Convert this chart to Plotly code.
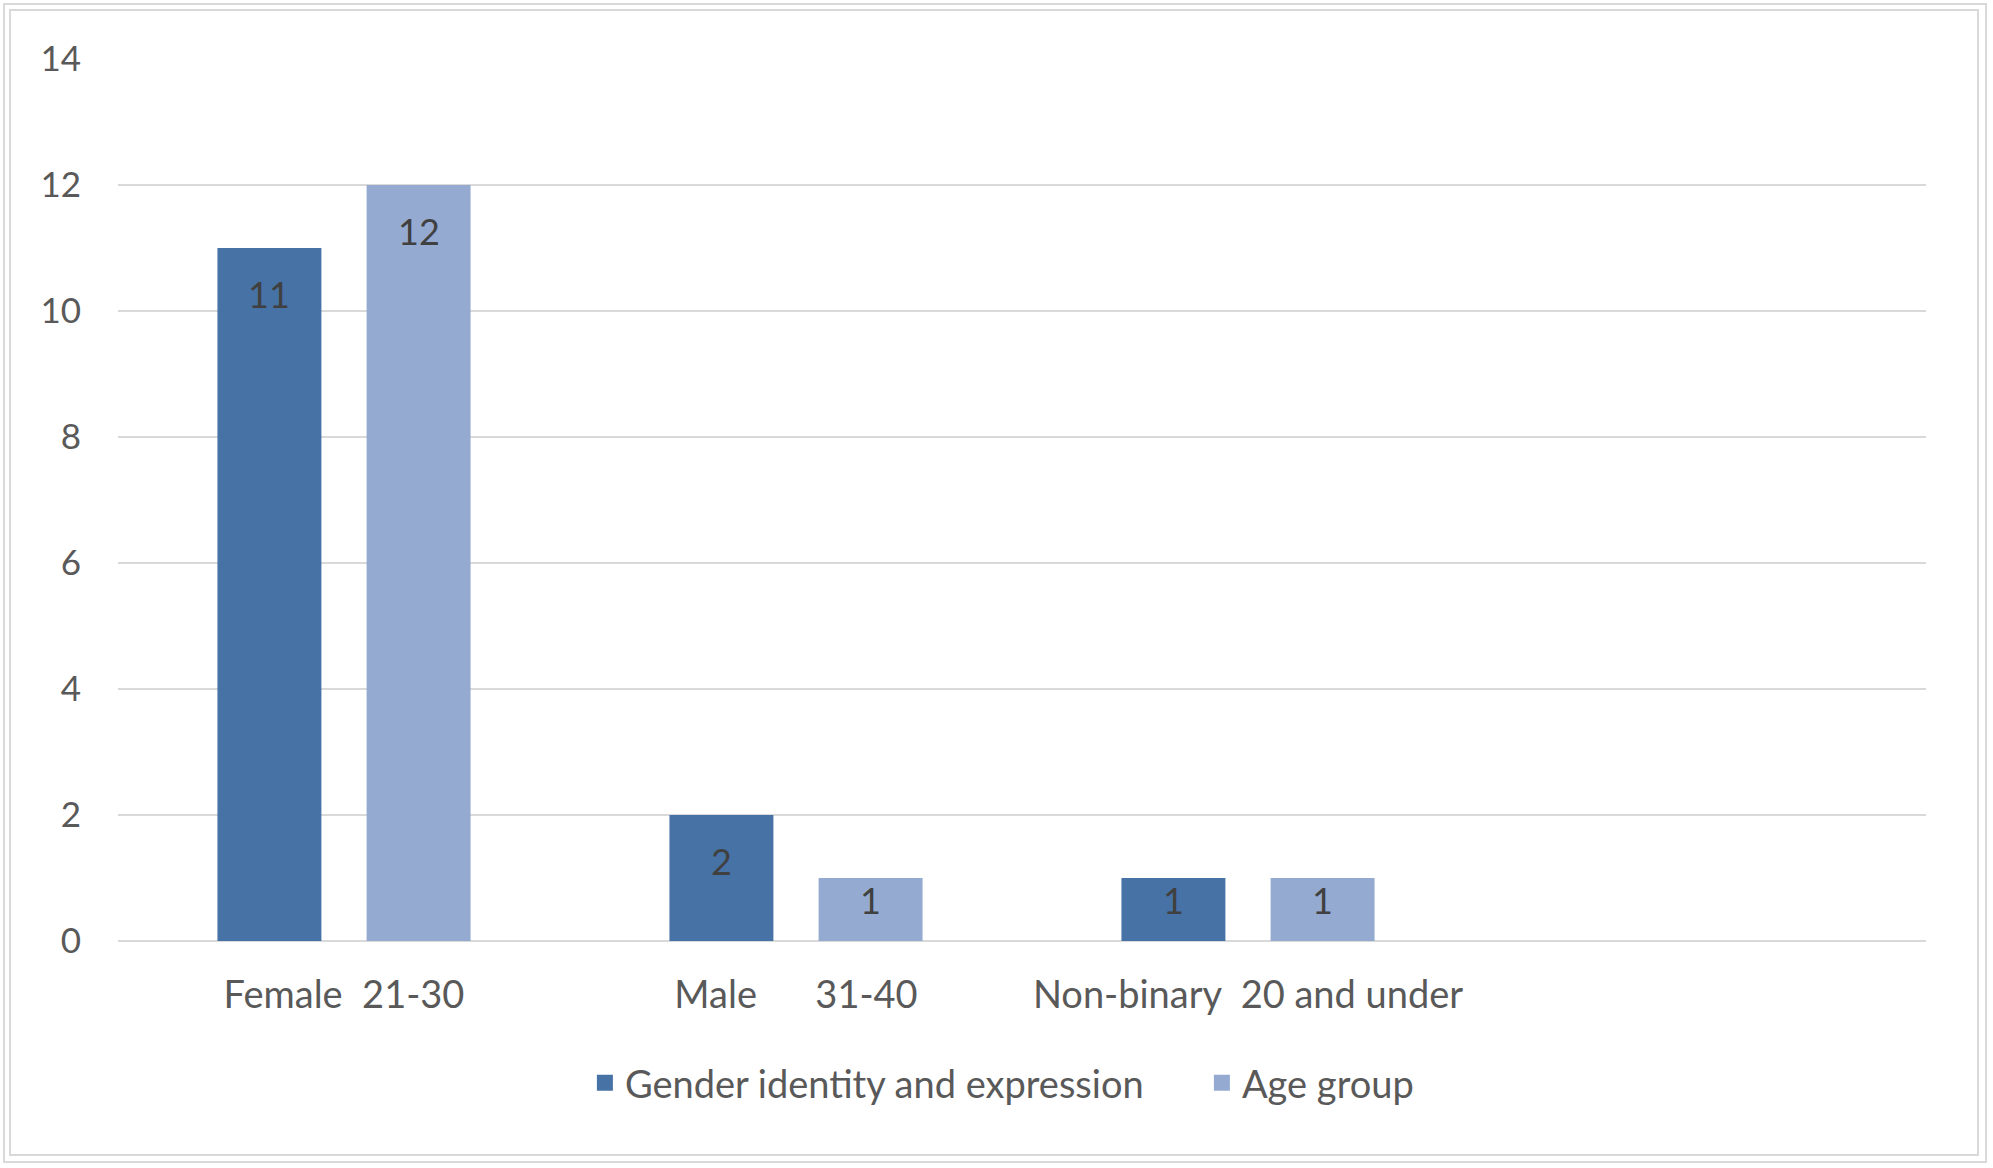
import plotly.graph_objects as go

# ---- data ----
group_labels = ["Female\u00a0\u00a021-30", "Male\u00a0\u00a0\u00a0\u00a0\u00a0\u00a031-40",
                "Non-binary\u00a0\u00a020 and under", ""]
gender_values = [11, 2, 1]
age_values = [12, 1, 1]
series_names = ["Gender identity and expression", "Age group"]
y_ticks = [0, 2, 4, 6, 8, 10, 12, 14]

# ---- style ----
DARK = "#4672A6"
LIGHT = "#94AAD0"
FONT = "Lato"
W, H = 1993, 1168
L, R, T, B = 118, 67, 59, 227
OFF = 0.165
BW = 0.23

groups = list(range(len(group_labels)))
fig = go.Figure()
fig.add_trace(go.Bar(x=[g - OFF for g in groups[:len(gender_values)]], y=gender_values,
                     width=BW, name=series_names[0], showlegend=False,
                     marker=dict(color=DARK, line=dict(width=0))))
fig.add_trace(go.Bar(x=[g + OFF for g in groups[:len(age_values)]], y=age_values,
                     width=BW, name=series_names[1], showlegend=False,
                     marker=dict(color=LIGHT, line=dict(width=0))))
# legend entries with square swatches
for name, col in zip(series_names, (DARK, LIGHT)):
    fig.add_trace(go.Scatter(x=[None], y=[None], mode="markers", name=name,
                             marker=dict(symbol="square", size=20, color=col)))

ppu = (H - T - B) / (y_ticks[-1] - y_ticks[0])
annots = []
for vals, sign in ((gender_values, -1), (age_values, 1)):
    for g, v in zip(groups, vals):
        shift = -min(46, v * ppu / 2 - 10)
        annots.append(dict(x=g + sign * OFF, y=v, xref="x", yref="y", text=str(v),
                           showarrow=False, yanchor="middle", yshift=shift,
                           font=dict(family=FONT, size=36, color="#404040")))

fig.update_layout(
    width=W, height=H,
    margin=dict(l=L, r=R, t=T, b=B),
    paper_bgcolor="white", plot_bgcolor="white",
    font=dict(family=FONT, size=35, color="#595959"),
    annotations=annots,
    showlegend=True,
    legend=dict(orientation="h", x=0.5995, xanchor="center", y=-0.161, yanchor="middle",
                font=dict(family=FONT, size=38, color="#595959"), traceorder="normal",
                itemwidth=30, entrywidth=572, entrywidthmode="pixels"),
    xaxis=dict(range=[-0.5, len(group_labels) - 0.5], tickvals=groups, ticktext=group_labels,
               showgrid=False, zeroline=False, showline=False, ticks="",
               tickfont=dict(size=38), ticklabelstandoff=28, fixedrange=True),
    yaxis=dict(range=[y_ticks[0], y_ticks[-1]], tickvals=y_ticks, showgrid=True,
               gridcolor="#D9D9D9", gridwidth=2, zeroline=True, zerolinecolor="#D9D9D9",
               zerolinewidth=2, showline=False, ticks="", ticklabelstandoff=36),
    shapes=[
        dict(type="rect", xref="paper", yref="paper",
             x0=(4 - L) / (W - L - R), x1=(1986 - L) / (W - L - R),
             y0=(H - B - 1162) / (H - T - B), y1=(H - B - 4) / (H - T - B),
             line=dict(color="#D9D9D9", width=2), layer="below"),
        dict(type="rect", xref="paper", yref="paper",
             x0=(10 - L) / (W - L - R), x1=(1978 - L) / (W - L - R),
             y0=(H - B - 1155) / (H - T - B), y1=(H - B - 10) / (H - T - B),
             line=dict(color="#D9D9D9", width=2), layer="below"),
    ],
)

fig.write_html("out.html", config={"displayModeBar": False},
               post_script="document.body.style.margin='0';")
